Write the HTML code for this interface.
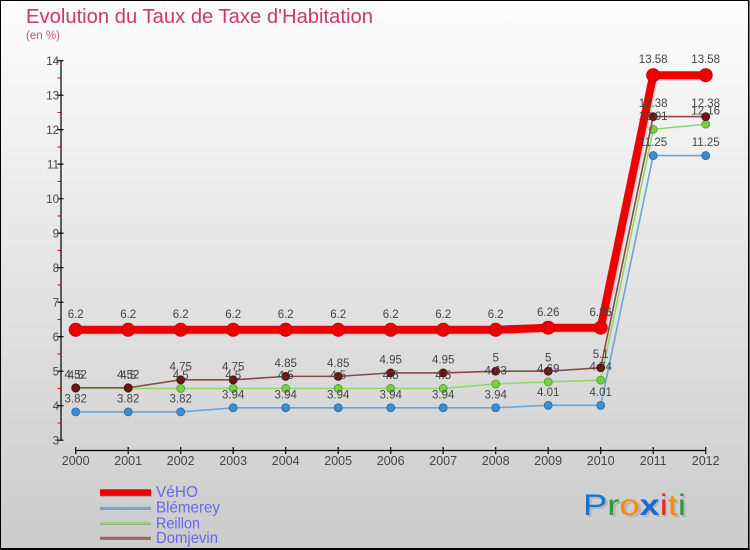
<!DOCTYPE html>
<html><head><meta charset="utf-8"><style>
html,body{margin:0;padding:0;background:#fff;}
svg{display:block;}
text{font-family:"Liberation Sans",sans-serif;}
</style></head><body>
<svg width="750" height="550" viewBox="0 0 750 550" xmlns="http://www.w3.org/2000/svg">
<defs>
<linearGradient id="bg" x1="0" y1="0" x2="0" y2="1">
<stop offset="0" stop-color="#fdfdfd"/>
<stop offset="1" stop-color="#cbcbcb"/>
</linearGradient>
</defs>
<rect x="0" y="0" width="750" height="550" fill="url(#bg)"/>
<rect x="0.5" y="0.5" width="748" height="548" fill="none" stroke="#000" stroke-width="1"/>
<line x1="749" y1="0" x2="749" y2="550" stroke="#000" stroke-width="1"/>
<line x1="0" y1="549.5" x2="750" y2="549.5" stroke="#000" stroke-width="1"/>

<text x="26" y="23" font-size="20" fill="#cc3868" textLength="347" lengthAdjust="spacingAndGlyphs">Evolution du Taux de Taxe d'Habitation</text>
<text x="26" y="39" font-size="12" fill="#c8507a" textLength="34" lengthAdjust="spacingAndGlyphs">(en %)</text>

<!-- Y axis -->
<g stroke="#000" stroke-width="1.2">
<line x1="61" y1="60.7" x2="61" y2="440.2"/>
<line x1="57.5" y1="60.7" x2="63.5" y2="60.7"/>
<line x1="57.5" y1="95.2" x2="63.5" y2="95.2"/>
<line x1="57.5" y1="129.7" x2="63.5" y2="129.7"/>
<line x1="57.5" y1="164.2" x2="63.5" y2="164.2"/>
<line x1="57.5" y1="198.7" x2="63.5" y2="198.7"/>
<line x1="57.5" y1="233.2" x2="63.5" y2="233.2"/>
<line x1="57.5" y1="267.7" x2="63.5" y2="267.7"/>
<line x1="57.5" y1="302.2" x2="63.5" y2="302.2"/>
<line x1="57.5" y1="336.7" x2="63.5" y2="336.7"/>
<line x1="57.5" y1="371.2" x2="63.5" y2="371.2"/>
<line x1="57.5" y1="405.7" x2="63.5" y2="405.7"/>
<line x1="57.5" y1="440.2" x2="63.5" y2="440.2"/>
</g>
<g stroke="#ff0000" stroke-width="1">
<line x1="57.5" y1="77.95" x2="60.5" y2="77.95"/>
<line x1="57.5" y1="112.45" x2="60.5" y2="112.45"/>
<line x1="57.5" y1="146.95" x2="60.5" y2="146.95"/>
<line x1="57.5" y1="181.45" x2="60.5" y2="181.45"/>
<line x1="57.5" y1="215.95" x2="60.5" y2="215.95"/>
<line x1="57.5" y1="250.45" x2="60.5" y2="250.45"/>
<line x1="57.5" y1="284.95" x2="60.5" y2="284.95"/>
<line x1="57.5" y1="319.45" x2="60.5" y2="319.45"/>
<line x1="57.5" y1="353.95" x2="60.5" y2="353.95"/>
<line x1="57.5" y1="388.45" x2="60.5" y2="388.45"/>
<line x1="57.5" y1="422.95" x2="60.5" y2="422.95"/>
</g>
<g font-size="11.5" fill="#444" text-anchor="end">
<text x="59" y="65">14</text>
<text x="59" y="99.5">13</text>
<text x="59" y="134">12</text>
<text x="59" y="168.5">11</text>
<text x="59" y="203">10</text>
<text x="59" y="237.5">9</text>
<text x="59" y="272">8</text>
<text x="59" y="306.5">7</text>
<text x="59" y="341">6</text>
<text x="59" y="375.5">5</text>
<text x="59" y="410">4</text>
<text x="59" y="444.5">3</text>
</g>

<!-- X axis -->
<g stroke="#000" stroke-width="1.2">
<line x1="75.7" y1="450.5" x2="705.7" y2="450.5"/>
<line x1="75.7" y1="447" x2="75.7" y2="454"/>
<line x1="128.2" y1="447" x2="128.2" y2="454"/>
<line x1="180.7" y1="447" x2="180.7" y2="454"/>
<line x1="233.2" y1="447" x2="233.2" y2="454"/>
<line x1="285.7" y1="447" x2="285.7" y2="454"/>
<line x1="338.2" y1="447" x2="338.2" y2="454"/>
<line x1="390.7" y1="447" x2="390.7" y2="454"/>
<line x1="443.2" y1="447" x2="443.2" y2="454"/>
<line x1="495.7" y1="447" x2="495.7" y2="454"/>
<line x1="548.2" y1="447" x2="548.2" y2="454"/>
<line x1="600.7" y1="447" x2="600.7" y2="454"/>
<line x1="653.2" y1="447" x2="653.2" y2="454"/>
<line x1="705.7" y1="447" x2="705.7" y2="454"/>
</g>
<g font-size="12.5" fill="#444" text-anchor="middle">
<text x="75.7" y="465">2000</text>
<text x="128.2" y="465">2001</text>
<text x="180.7" y="465">2002</text>
<text x="233.2" y="465">2003</text>
<text x="285.7" y="465">2004</text>
<text x="338.2" y="465">2005</text>
<text x="390.7" y="465">2006</text>
<text x="443.2" y="465">2007</text>
<text x="495.7" y="465">2008</text>
<text x="548.2" y="465">2009</text>
<text x="600.7" y="465">2010</text>
<text x="653.2" y="465">2011</text>
<text x="705.7" y="465">2012</text>
</g>

<!-- VéHO -->
<polyline fill="none" stroke="#999" stroke-opacity="0.35" stroke-width="8" stroke-linejoin="round" transform="translate(1.5,1.5)"
points="75.7,329.8 128.2,329.8 180.7,329.8 233.2,329.8 285.7,329.8 338.2,329.8 390.7,329.8 443.2,329.8 495.7,329.8 548.2,327.73 600.7,327.73 653.2,75.19 705.7,75.19"/>
<polyline fill="none" stroke="#ee0000" stroke-width="8" stroke-linejoin="round"
points="75.7,329.8 128.2,329.8 180.7,329.8 233.2,329.8 285.7,329.8 338.2,329.8 390.7,329.8 443.2,329.8 495.7,329.8 548.2,327.73 600.7,327.73 653.2,75.19 705.7,75.19"/>
<g fill="#ee0000" stroke="#c80000" stroke-width="1">
<circle cx="75.7" cy="329.8" r="6.5"/><circle cx="128.2" cy="329.8" r="6.5"/><circle cx="180.7" cy="329.8" r="6.5"/>
<circle cx="233.2" cy="329.8" r="6.5"/><circle cx="285.7" cy="329.8" r="6.5"/><circle cx="338.2" cy="329.8" r="6.5"/>
<circle cx="390.7" cy="329.8" r="6.5"/><circle cx="443.2" cy="329.8" r="6.5"/><circle cx="495.7" cy="329.8" r="6.5"/>
<circle cx="548.2" cy="327.73" r="6.5"/><circle cx="600.7" cy="327.73" r="6.5"/><circle cx="653.2" cy="75.19" r="6.5"/>
<circle cx="705.7" cy="75.19" r="6.5"/>
</g>

<!-- Blémerey -->
<polyline fill="none" stroke="#6aa6d6" stroke-width="1.6"
points="75.7,411.91 128.2,411.91 180.7,411.91 233.2,407.77 285.7,407.77 338.2,407.77 390.7,407.77 443.2,407.77 495.7,407.77 548.2,405.36 600.7,405.36 653.2,155.58 705.7,155.58"/>
<g fill="#3a8ed0" stroke="#2a6aa0" stroke-width="0.8">
<circle cx="75.7" cy="411.91" r="4"/><circle cx="128.2" cy="411.91" r="4"/><circle cx="180.7" cy="411.91" r="4"/>
<circle cx="233.2" cy="407.77" r="4"/><circle cx="285.7" cy="407.77" r="4"/><circle cx="338.2" cy="407.77" r="4"/>
<circle cx="390.7" cy="407.77" r="4"/><circle cx="443.2" cy="407.77" r="4"/><circle cx="495.7" cy="407.77" r="4"/>
<circle cx="548.2" cy="405.36" r="4"/><circle cx="600.7" cy="405.36" r="4"/><circle cx="653.2" cy="155.58" r="4"/>
<circle cx="705.7" cy="155.58" r="4"/>
</g>

<!-- Reillon -->
<polyline fill="none" stroke="#90da68" stroke-width="1.6"
points="75.7,388.45 128.2,388.45 180.7,388.45 233.2,388.45 285.7,388.45 338.2,388.45 390.7,388.45 443.2,388.45 495.7,383.97 548.2,381.9 600.7,380.17 653.2,129.36 705.7,124.18"/>
<g fill="#78d040" stroke="#4e9a2a" stroke-width="0.8">
<circle cx="75.7" cy="388.45" r="4"/><circle cx="128.2" cy="388.45" r="4"/><circle cx="180.7" cy="388.45" r="4"/>
<circle cx="233.2" cy="388.45" r="4"/><circle cx="285.7" cy="388.45" r="4"/><circle cx="338.2" cy="388.45" r="4"/>
<circle cx="390.7" cy="388.45" r="4"/><circle cx="443.2" cy="388.45" r="4"/><circle cx="495.7" cy="383.97" r="4"/>
<circle cx="548.2" cy="381.9" r="4"/><circle cx="600.7" cy="380.17" r="4"/><circle cx="653.2" cy="129.36" r="4"/>
<circle cx="705.7" cy="124.18" r="4"/>
</g>

<!-- Domjevin -->
<polyline fill="none" stroke="#8a4848" stroke-width="1.6"
points="75.7,387.76 128.2,387.76 180.7,379.83 233.2,379.83 285.7,376.38 338.2,376.38 390.7,372.93 443.2,372.93 495.7,371.2 548.2,371.2 600.7,367.75 653.2,116.59 705.7,116.59"/>
<g fill="#6b1616" stroke="#4a0c0c" stroke-width="0.8">
<circle cx="75.7" cy="387.76" r="4"/><circle cx="128.2" cy="387.76" r="4"/><circle cx="180.7" cy="379.83" r="4"/>
<circle cx="233.2" cy="379.83" r="4"/><circle cx="285.7" cy="376.38" r="4"/><circle cx="338.2" cy="376.38" r="4"/>
<circle cx="390.7" cy="372.93" r="4"/><circle cx="443.2" cy="372.93" r="4"/><circle cx="495.7" cy="371.2" r="4"/>
<circle cx="548.2" cy="371.2" r="4"/><circle cx="600.7" cy="367.75" r="4"/><circle cx="653.2" cy="116.59" r="4"/>
<circle cx="705.7" cy="116.59" r="4"/>
</g>

<!-- Data labels -->
<g font-size="11.5" fill="#444" text-anchor="middle">
<!-- VéHO -->
<text x="75.7" y="318">6.2</text><text x="128.2" y="318">6.2</text><text x="180.7" y="318">6.2</text>
<text x="233.2" y="318">6.2</text><text x="285.7" y="318">6.2</text><text x="338.2" y="318">6.2</text>
<text x="390.7" y="318">6.2</text><text x="443.2" y="318">6.2</text><text x="495.7" y="318">6.2</text>
<text x="548.2" y="316">6.26</text><text x="600.7" y="316">6.26</text><text x="653.2" y="63">13.58</text>
<text x="705.7" y="63">13.58</text>
<!-- Blémerey -->
<text x="75.7" y="402.5">3.82</text><text x="128.2" y="402.5">3.82</text><text x="180.7" y="402.5">3.82</text>
<text x="233.2" y="398.3">3.94</text><text x="285.7" y="398.3">3.94</text><text x="338.2" y="398.3">3.94</text>
<text x="390.7" y="398.3">3.94</text><text x="443.2" y="398.3">3.94</text><text x="495.7" y="398.3">3.94</text>
<text x="548.2" y="395.9">4.01</text><text x="600.7" y="395.9">4.01</text><text x="653.2" y="146.1">11.25</text>
<text x="705.7" y="146.1">11.25</text>
<!-- Reillon -->
<text x="75.7" y="379">4.5</text><text x="128.2" y="379">4.5</text><text x="180.7" y="379">4.5</text>
<text x="233.2" y="379">4.5</text><text x="285.7" y="379">4.5</text><text x="338.2" y="379">4.5</text>
<text x="390.7" y="379">4.5</text><text x="443.2" y="379">4.5</text><text x="495.7" y="374.5">4.63</text>
<text x="548.2" y="372.4">4.69</text><text x="600.7" y="370.7">4.74</text><text x="653.2" y="119.9">12.01</text>
<text x="705.7" y="114.7">12.16</text>
<!-- Domjevin -->
<text x="75.7" y="378.3">4.52</text><text x="128.2" y="378.3">4.52</text><text x="180.7" y="370.3">4.75</text>
<text x="233.2" y="370.3">4.75</text><text x="285.7" y="366.9">4.85</text><text x="338.2" y="366.9">4.85</text>
<text x="390.7" y="363.4">4.95</text><text x="443.2" y="363.4">4.95</text><text x="495.7" y="361.7">5</text>
<text x="548.2" y="361.7">5</text><text x="600.7" y="358.2">5.1</text><text x="653.2" y="107.1">12.38</text>
<text x="705.7" y="107.1">12.38</text>
</g>

<!-- Legend -->
<rect x="101" y="490.5" width="51" height="6.5" fill="#888" fill-opacity="0.5"/>
<rect x="100" y="489.3" width="51" height="6.5" fill="#ee0000"/>
<line x1="100" y1="509.3" x2="151" y2="509.3" stroke="#8a9aa8" stroke-width="1.5"/>
<line x1="100" y1="507.8" x2="151" y2="507.8" stroke="#78aad4" stroke-width="2"/>
<line x1="100" y1="524.3" x2="151" y2="524.3" stroke="#9aaa90" stroke-width="1.5"/>
<line x1="100" y1="522.8" x2="151" y2="522.8" stroke="#9ad878" stroke-width="2"/>
<line x1="100" y1="539.3" x2="151" y2="539.3" stroke="#8a7a7a" stroke-width="1.5"/>
<line x1="100" y1="537.8" x2="151" y2="537.8" stroke="#9a6666" stroke-width="2"/>
<g font-size="16" fill="#6666ee">
<text x="156" y="497" textLength="42" lengthAdjust="spacingAndGlyphs">VéHO</text>
<text x="156" y="512.5" textLength="64" lengthAdjust="spacingAndGlyphs">Blémerey</text>
<text x="156" y="528.3" textLength="44" lengthAdjust="spacingAndGlyphs">Reillon</text>
<text x="156" y="543" textLength="62" lengthAdjust="spacingAndGlyphs">Domjevin</text>
</g>

<!-- Logo -->
<text x="585" y="517" font-size="30" fill="#000" fill-opacity="0.12" textLength="103" lengthAdjust="spacingAndGlyphs">Proxiti</text>
<text x="583" y="515" font-size="30" textLength="103" lengthAdjust="spacingAndGlyphs"><tspan fill="#1a72d0">P</tspan><tspan fill="#2a9a3a">r</tspan><tspan fill="#ff8a00">o</tspan><tspan fill="#1a6ad0" font-weight="bold">x</tspan><tspan fill="#e03020">i</tspan><tspan fill="#ff8a00">t</tspan><tspan fill="#2a9a3a">i</tspan></text>
</svg>
</body></html>
